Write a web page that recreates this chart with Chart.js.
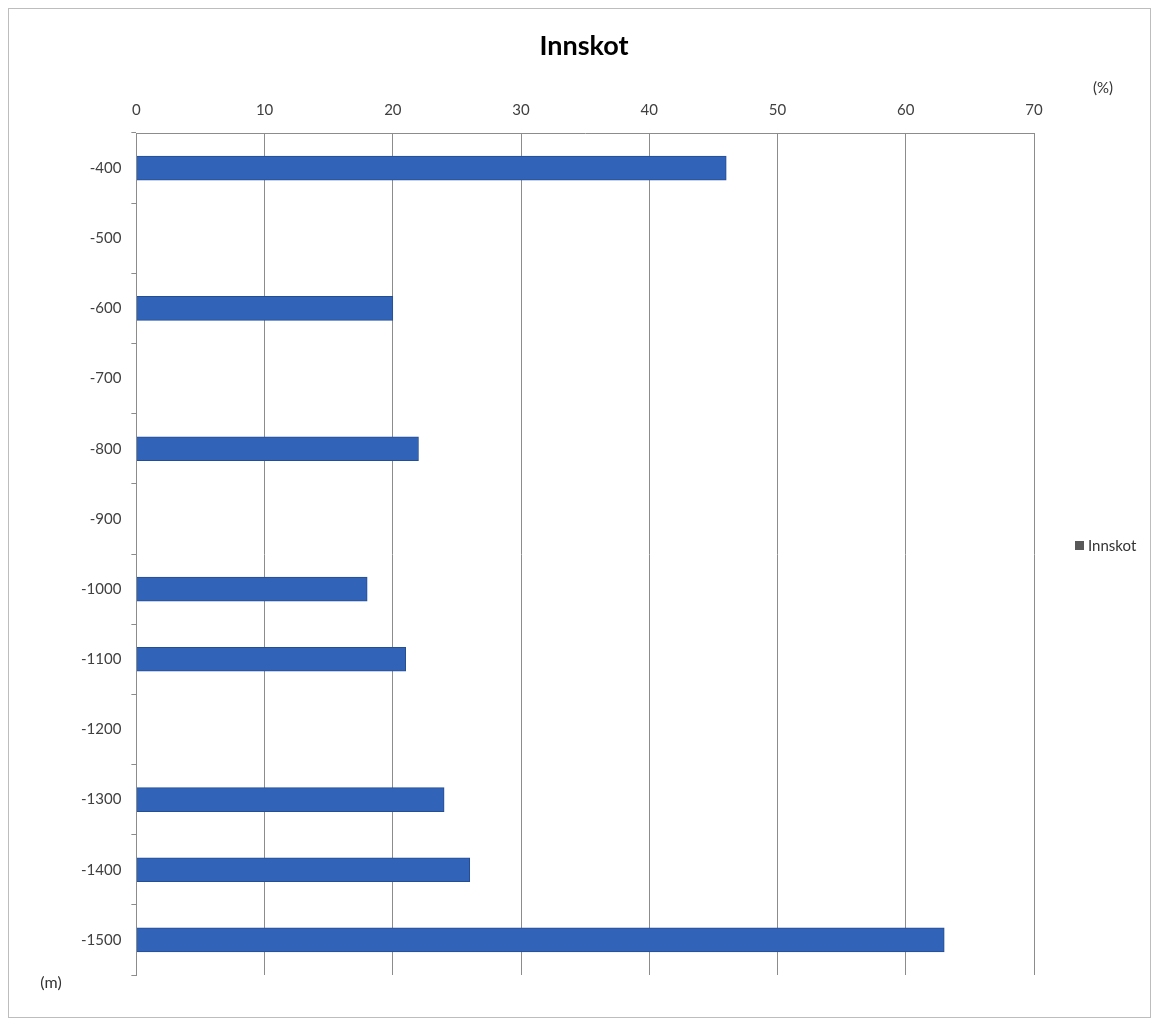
<!DOCTYPE html>
<html>
<head>
<meta charset="utf-8">
<script src="https://cdn.jsdelivr.net/npm/chart.js@4"></script>
<style>
  html, body { margin: 0; padding: 0; background: #fff; }
  #wrap { position: relative; width: 1152px; height: 1021px; }
  #frame { position: absolute; left: 8px; top: 8px; width: 1143px; height: 1010px; border: 1px solid #bdbdbd; box-sizing: border-box; }
</style>
</head>
<body>
<div id="wrap">
  <div id="frame"></div>
  <canvas id="chart1" width="1152" height="1021"></canvas>
</div>
<script>
// Data
// ========================================================================
var depths = ["-400", "-500", "-600", "-700", "-800", "-900", "-1000", "-1100", "-1200", "-1300", "-1400", "-1500"];
var innskot = [46, null, 20, null, 22, null, 18, 21, null, 24, 26, 63];
var xTicks = [0, 10, 20, 30, 40, 50, 60, 70];

var fontFamily = "Lato, 'Liberation Sans', sans-serif";

// title, (%), (m) and the legend on the right
var sideLabels = {
  id: 'sideLabels',
  afterDraw: function (chart) {
    var ctx = chart.ctx;
    ctx.save();
    ctx.textBaseline = 'middle';
    ctx.textAlign = 'center';

    ctx.fillStyle = '#000';
    ctx.font = 'bold 27px ' + fontFamily;
    ctx.fillText('Innskot', 584, 46);

    ctx.fillStyle = '#333';
    ctx.font = '15px ' + fontFamily;
    ctx.fillText('(%)', 1103, 88);
    ctx.font = '16px ' + fontFamily;
    ctx.fillText('(m)', 51, 983);

    // legend
    ctx.font = '15px ' + fontFamily;
    ctx.fillStyle = '#595959';
    ctx.fillRect(1075, 541, 9, 9);
    ctx.fillStyle = '#333';
    ctx.textAlign = 'left';
    ctx.fillText(chart.data.datasets[0].label, 1088, 546);
    ctx.restore();
  }
};

// Chart 1
// ========================================================================
var chart1El = document.getElementById('chart1');
new Chart(chart1El, {
  type: 'bar',
  data: {
    labels: depths,
    datasets: [{
      label: "Innskot",
      data: innskot,
      backgroundColor: "#3164b8",
      borderColor: "#244d92",
      borderWidth: 1,
      barThickness: 24,
      skipNull: true
    }]
  },
  options: {
    indexAxis: 'y',
    responsive: false,
    animation: false,
    layout: {
      padding: { left: 71, right: 118, top: 87, bottom: 46 }
    },
    plugins: {
      title: { display: false },
      legend: { display: false },
      tooltip: { enabled: false }
    },
    scales: {
      x: {
        position: 'top',
        min: 0,
        max: 70,
        afterBuildTicks: function (axis) {
          axis.ticks = xTicks.map(function (v) { return { value: v }; });
        },
        grid: {
          color: '#8c8c8c',
          lineWidth: 1,
          drawTicks: false
        },
        border: { display: true, color: '#8c8c8c' },
        ticks: {
          color: '#404040',
          padding: 14,
          font: { family: fontFamily, size: 15 }
        }
      },
      y: {
        grid: {
          offset: true,
          drawOnChartArea: false,
          drawTicks: true,
          tickLength: 5,
          color: '#8c8c8c'
        },
        border: { display: true, color: '#8c8c8c' },
        ticks: {
          color: '#404040',
          padding: 10,
          font: { family: fontFamily, size: 15 }
        }
      }
    }
  },
  plugins: [sideLabels]
});
</script>
</body>
</html>
